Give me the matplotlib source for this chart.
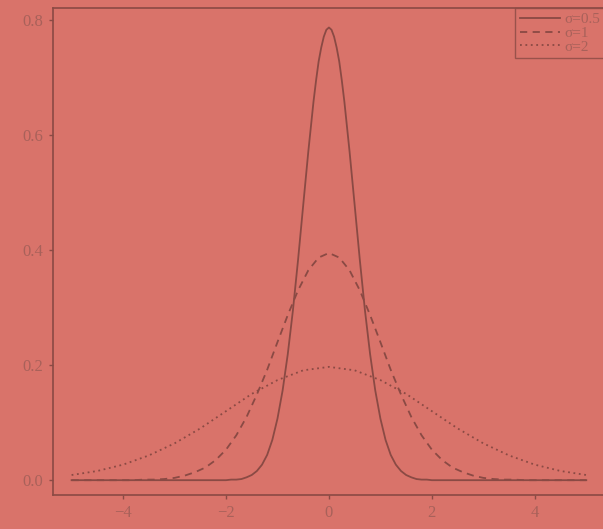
import matplotlib.pyplot as plt

# values
x_s05 = [-5.0, -2.5, -2.0, -1.9, -1.8, -1.7, -1.6, -1.5, -1.4, -1.3, -1.2, -1.1, -1.0,
         -0.9, -0.8, -0.7, -0.6, -0.5, -0.4, -0.3, -0.25, -0.2, -0.15, -0.1, -0.05, 0.0,
         0.05, 0.1, 0.15, 0.2, 0.25, 0.3, 0.4, 0.5, 0.6, 0.7, 0.8, 0.9, 1.0,
         1.1, 1.2, 1.3, 1.4, 1.5, 1.6, 1.7, 1.8, 1.9, 2.0, 2.5, 5.0]
half_s05 = [0.787, 0.783, 0.771, 0.752, 0.728, 0.695, 0.658, 0.572, 0.478, 0.383,
            0.295, 0.219, 0.156, 0.107, 0.070, 0.044, 0.027, 0.016, 0.009, 0.005,
            0.002, 0.001, 0.001, 0.0, 0.0, 0.0]
y_s05 = half_s05[::-1] + half_s05[1:]

x_s1 = [round(-5 + 0.2 * i, 1) for i in range(51)]
half_s1 = [0.395, 0.387, 0.365, 0.330, 0.287, 0.240, 0.192, 0.149, 0.110, 0.078, 0.053,
           0.035, 0.022, 0.014, 0.008, 0.004, 0.002, 0.001, 0.001, 0.0, 0.0,
           0.0, 0.0, 0.0, 0.0, 0.0]
y_s1 = half_s1[::-1] + half_s1[1:]

x_s2 = [-5.0, -4.5, -4.0, -3.5, -3.0, -2.5, -2.0, -1.5, -1.0, -0.5, 0.0,
        0.5, 1.0, 1.5, 2.0, 2.5, 3.0, 3.5, 4.0, 4.5, 5.0]
half_s2 = [0.197, 0.191, 0.174, 0.150, 0.120, 0.090, 0.064, 0.043, 0.027, 0.016, 0.009]
y_s2 = half_s2[::-1] + half_s2[1:]

labels = ['σ=0.5', 'σ=1', 'σ=2']

bg = '#d9736a'
ink = '#8a4a44'
txt = '#a8615a'

plt.rcParams['font.family'] = ['Liberation Serif', 'DejaVu Serif']

fig = plt.figure(figsize=(6.03, 5.29), dpi=100, facecolor=bg)
ax = fig.add_axes([0.088, 0.064, 0.915, 0.921], facecolor=bg)

ax.plot(x_s05, y_s05, color=ink, lw=1.3, ls='-', label=labels[0])
ax.plot(x_s1, y_s1, color=ink, lw=1.3, ls=(0, (4, 3)), label=labels[1])
ax.plot(x_s2, y_s2, color=ink, lw=1.3, ls=(0, (1, 2)), label=labels[2])

ax.set_xlim(-5.36, 5.36)
ax.set_ylim(-0.026, 0.821)
ax.set_xticks([-4, -2, 0, 2, 4])
ax.set_xticklabels(['−4', '−2', '0', '2', '4'])
ax.set_yticks([0.0, 0.2, 0.4, 0.6, 0.8])
ax.set_yticklabels(['0.0', '0.2', '0.4', '0.6', '0.8'])

for s in ax.spines.values():
    s.set_color(ink)
    s.set_linewidth(1.2)
ax.tick_params(direction='out', length=3, width=1, color=ink, labelcolor=txt,
               labelsize=12, pad=4)

leg = ax.legend(loc='upper right', fontsize=11, frameon=True, fancybox=False,
                handlelength=2.6, handletextpad=0.3, borderpad=0.3,
                labelspacing=0.0, borderaxespad=0.0)
leg.get_frame().set_facecolor(bg)
leg.get_frame().set_edgecolor(ink)
leg.get_frame().set_linewidth(1.0)
for t in leg.get_texts():
    t.set_color(txt)

plt.savefig('out.png', dpi=100, facecolor=bg)
